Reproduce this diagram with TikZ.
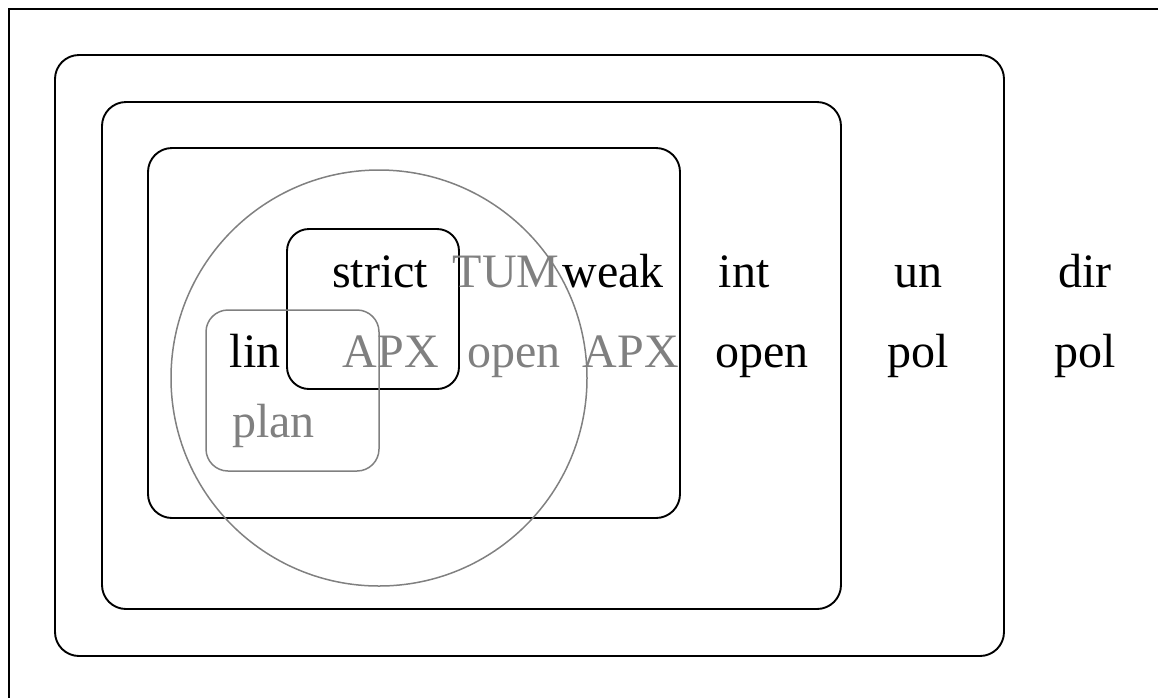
\documentclass[tikz,border=0pt]{standalone}
\usepackage{fontspec}
\setmainfont{Liberation Serif}
\definecolor{shade}{RGB}{128,128,128}
\begin{document}
\begin{tikzpicture}[x=1pt,y=-1pt,
  box/.style={draw=black,line width=1.9pt,rounded corners=24pt},
  graybox/.style={draw=shade,line width=1.5pt,rounded corners=24pt},
  lbl/.style={inner sep=0pt,anchor=base,font=\fontsize{48}{58}\selectfont,text=black},
  glbl/.style={lbl,text=shade}]
\useasboundingbox (0,0) rectangle (1158,697);
\clip (0,0) rectangle (1158,697);
% open frame
\draw[line width=1.9pt] (9,720) -- (9,9) -- (1180,9);
% nested classes
\draw[box] (55,55) rectangle (1004,656);
\draw[box] (102,102) rectangle (841,609);
\draw[box] (148,148) rectangle (680,518);
\draw[box,rounded corners=22pt] (287,229) rectangle (459,389);
\draw[graybox,rounded corners=22pt] (206,310) rectangle (379,471);
\draw[draw=shade,line width=1.5pt] (379,378) circle[radius=208];
% first row
\node[lbl]  (strict) at (380,287) {strict};
\node[glbl] (tum)    at (506,287) {TUM};
\node[lbl]  (weak)   at (613,287) {weak};
\node[lbl]  (int)    at (744,287) {int};
\node[lbl]  (un)     at (918,287) {un};
\node[lbl]  (dir)    at (1085,287) {dir};
% second row
\node[lbl]  (lin)    at (255,367) {lin};
\node[glbl] (apxa)   at (391,367) {APX};
\node[glbl] (opena)  at (514,367) {open};
\node[glbl] (apxb)   at (631,367) {APX};
\node[lbl]  (openb)  at (762,367) {open};
\node[lbl]  (pola)   at (918,367) {pol};
\node[lbl]  (polb)   at (1085,367) {pol};
% third row
\node[glbl,anchor=base west] (plan) at (232,437) {plan};
\end{tikzpicture}
\end{document}
